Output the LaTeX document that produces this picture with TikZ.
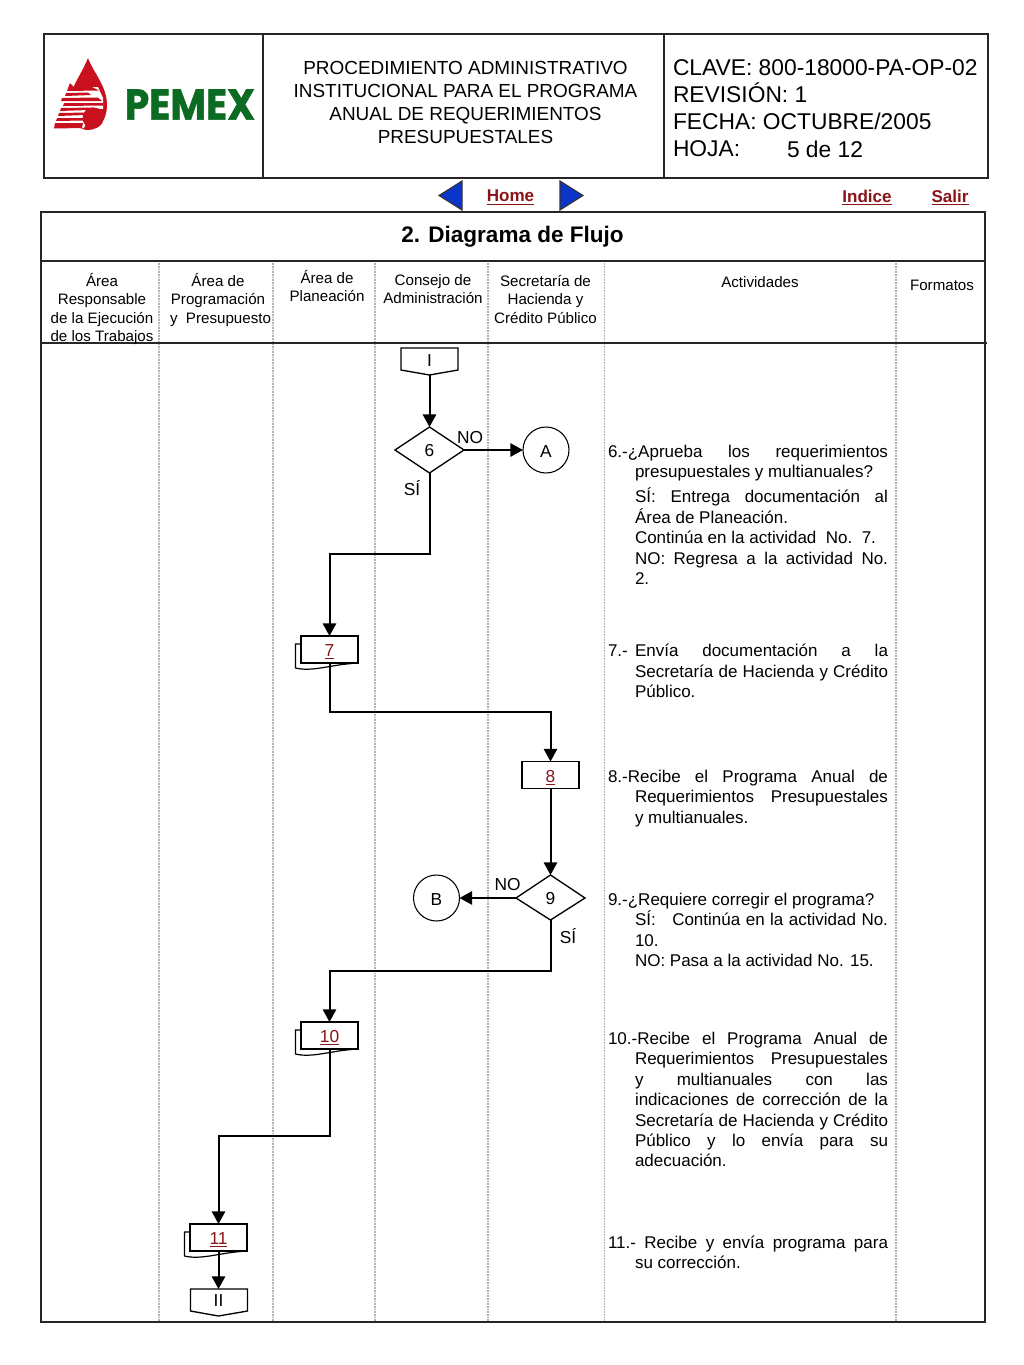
\documentclass[tikz,border=0pt]{standalone}
\usepackage{fontspec}
\setmainfont{Liberation Sans}
\newfontfamily\logofont[FakeBold=1.2]{Poppins}
\usetikzlibrary{arrows.meta}
\definecolor{linkred}{HTML}{8A1418}
\definecolor{pemexgreen}{HTML}{0B6B22}
\definecolor{pemexred}{HTML}{C8101E}
\definecolor{navblue}{HTML}{0A35C8}
\definecolor{gridgray}{HTML}{B0B0B0}
\newcounter{tn}
% label helpers: all positions in reference pixels, y = baseline
\newcommand{\txtC}[4][13]{\stepcounter{tn}\node[lab,anchor=base] (t\thetn) at (#2,#3) {\fontsize{#1}{#1}\selectfont #4};}
\newcommand{\txtL}[4][12.75]{\stepcounter{tn}\node[lab,anchor=base west] (t\thetn) at (#2,#3) {\fontsize{#1}{#1}\selectfont #4};}
\newcommand{\txtJ}[3]{\stepcounter{tn}\node[lab,anchor=base west] (t\thetn) at (635,#1) {\fontsize{12.75}{12.75}\selectfont\makebox[#2pt][s]{#3}};}
\tikzset{
  lab/.style={inner sep=0pt,outer sep=0pt},
  frame/.style={draw=black!85,line width=1.3pt},
  grid/.style={draw=gridgray,line width=0.85pt,dash pattern=on 0.8pt off 0.4pt},
  flow/.style={draw=black,line width=1.5pt},
  arr/.style={flow,-{Triangle[length=9.5pt,width=10pt]}},
  shapeline/.style={draw=black,line width=1pt,fill=white},
  backpage/.style={draw=black,line width=0.9pt},
  num/.style={inner sep=0pt,font=\fontsize{13}{13}\selectfont},
  link/.style={text=linkred,inner sep=0pt,font=\fontsize{12.8}{12.8}\selectfont\bfseries},
  rectnode/.style={shapeline,minimum width=42.75pt,minimum height=20.25pt,inner sep=0pt,outer sep=0pt,text depth=0pt,text height=10.5pt,font=\fontsize{13}{13}\selectfont},
  circnode/.style={circle,draw=black,line width=0.8pt,fill=white,minimum size=34.5pt,inner sep=0pt,outer sep=0pt,text depth=0pt,text height=11pt,font=\fontsize{13}{13}\selectfont},
  nav/.style={fill=navblue,draw=black!80,line width=0.8pt},
}
\begin{document}
\begin{tikzpicture}[x=0.75pt,y=-0.75pt]
\useasboundingbox[fill=white] (0,0) rectangle (1024,1365);
% top header frame
\draw[frame] (44,34) rectangle (988,178);
\draw[frame] (263,34) -- (263,178);
\draw[frame] (664,34) -- (664,178);
% logo
\fill[pemexred] (88,58) .. controls (93,72) and (107,86) .. (107,105)
  .. controls (107,120) and (99,130) .. (88,130)
  .. controls (80,130) and (72,124) .. (70,112)
  .. controls (66,92) and (80,78) .. (88,58) -- cycle;
\fill[white] (64,87) -- (98,87) -- (103,98) -- (103,109) -- (92,108) -- (84,128) -- (54,131) -- cycle;
\fill[pemexred] (68,88) -- (70,83) -- (74,87) -- (92,87) -- (99,90.5) -- (67,91) -- cycle;
\fill[pemexred] (66,93) -- (88,92.5) -- (91,95) -- (65,96) -- cycle;
\fill[pemexred] (62,98) -- (98,97.5) -- (102,101) -- (61,101) -- cycle;
\fill[pemexred] (64,103) -- (103,103) -- (103,105.5) -- (63,106) -- cycle;
\fill[pemexred] (61,108) -- (95,107.5) -- (88,110) -- (60,111) -- cycle;
\fill[pemexred] (59,113) -- (87,112.5) -- (85,115) -- (58,116) -- cycle;
\fill[pemexred] (57,118) -- (84,118) -- (83,120.5) -- (56,121) -- cycle;
\fill[pemexred] (55,123) -- (83,123) -- (82,128) -- (54,128.5) -- cycle;
\fill[pemexred] (93,118) circle[radius=10.5];
\node[lab,text=pemexgreen] (pemex) at (190,104.5)
  {\resizebox{97.5pt}{22.5pt}{\logofont\bfseries PEMEX}};
% title block
\txtC[14.2]{465.5}{74}{PROCEDIMIENTO ADMINISTRATIVO}
\txtC[14.2]{465.5}{97}{INSTITUCIONAL PARA EL PROGRAMA}
\txtC[14.2]{465.5}{120}{ANUAL DE REQUERIMIENTOS}
\txtC[14.2]{465.5}{143}{PRESUPUESTALES}
\txtL[17.1]{673}{75}{CLAVE: 800-18000-PA-OP-02}
\txtL[17.1]{673}{102}{REVISIÓN: 1}
\txtL[17.1]{673}{129}{FECHA: OCTUBRE/2005}
\txtL[17.1]{673}{156}{HOJA:}
\txtL[17.1]{787}{157}{5 de 12}
% navigation
\fill[nav] (439,195.5) -- (462,181) -- (462,210) -- cycle;
\fill[nav] (583,195.5) -- (560,181) -- (560,210) -- cycle;
\node[link] (home) at (510.5,197.5) {\underline{Home}};
\node[link] (indice) at (867,197.5) {\underline{Indice}};
\node[link] (salir) at (950,197.5) {\underline{Salir}};
% main frame
\draw[grid] (159,261) -- (159,1322);
\draw[grid] (273,261) -- (273,1322);
\draw[grid] (375,261) -- (375,1322);
\draw[grid] (488,261) -- (488,1322);
\draw[grid] (604.5,261) -- (604.5,1322);
\draw[grid] (896,261) -- (896,1322);
\draw[frame] (41,212) rectangle (985,1322);
\draw[frame] (41,261) -- (985,261);
\draw[frame] (41,343) -- (987,343);
\txtC[16.9]{512.5}{242}{\bfseries 2. Diagrama de Flujo}
% column heads
\txtC[11.35]{102}{286}{Área}
\txtC[11.35]{102}{304.5}{Responsable}
\txtC[11.35]{102}{323}{de la Ejecución}
\txtC[11.35]{102}{341}{de los Trabajos}
\txtC[11.35]{218}{286}{Área de}
\txtC[11.35]{218}{304.5}{Programación}
\txtC[11.35]{220.5}{323}{y\ \ Presupuesto}
\txtC[11.35]{327}{283}{Área de}
\txtC[11.35]{327}{301}{Planeación}
\txtC[11.35]{433}{285}{Consejo de}
\txtC[11.35]{433}{303}{Administración}
\txtC[11.35]{545.5}{286}{Secretaría de}
\txtC[11.35]{545.5}{304.5}{Hacienda y}
\txtC[11.35]{545.5}{323}{Crédito Público}
\txtC[11.35]{760}{287}{Actividades}
\txtC[11.35]{942}{290}{Formatos}
% flow nodes
\draw[shapeline] (401,348) -- (458,348) -- (458,370) -- (429.5,375) -- (401,370) -- cycle;
\coordinate (i) at (429.5,375);
\node[num] (ilab) at (429.5,360.5) {I};
\draw[shapeline] (395,450) -- (429.5,427) -- (464,450) -- (429.5,473) -- cycle;
\coordinate (d6) at (429.5,451);
\coordinate (d6n) at (429.5,427);
\coordinate (d6e) at (464,450);
\coordinate (d6s) at (429.5,473);
\node[num] (d6lab) at (d6) {6};
\node[circnode] (a) at (546,450) {A};
\draw[backpage] (301,644) -- (295.5,644) -- (295.5,668) .. controls (312,672) and (330,665) .. (352,663.5);
\node[rectnode] (n7) at (329.5,649.5) {\textcolor{linkred}{\underline{7}}};
\node[rectnode] (n8) at (550.5,775) {\textcolor{linkred}{\underline{8}}};
\draw[shapeline] (516,898) -- (550.5,875) -- (585,898) -- (550.5,920) -- cycle;
\coordinate (d9n) at (550.5,875);
\coordinate (d9w) at (516,898);
\coordinate (d9s) at (550.5,920);
\node[num] (d9lab) at (550.5,899) {9};
\node[circnode] (b) at (436.5,898) {B};
\draw[backpage] (301,1030) -- (295.5,1030) -- (295.5,1054) .. controls (312,1058) and (330,1051) .. (352,1049.5);
\node[rectnode] (n10) at (329.5,1035.5) {\textcolor{linkred}{\underline{10}}};
\draw[backpage] (190,1232) -- (184.5,1232) -- (184.5,1256) .. controls (201,1260) and (219,1253) .. (241,1251.5);
\node[rectnode] (n11) at (218.5,1237.5) {\textcolor{linkred}{\underline{11}}};
\draw[shapeline] (190.5,1289) -- (247.5,1289) -- (247.5,1311) -- (218.5,1316) -- (190.5,1311) -- cycle;
\coordinate (ii) at (218.5,1289);
\node[num] (iilab) at (218.5,1301) {II};
% connectors
\draw[arr] (i) -- (d6n);
\draw[arr] (d6e) -- (a.west);
\draw[arr] (d6s) -- (429.5,554) -- (329.5,554) -- (n7.north);
\draw[arr] (n7.south) -- (329.5,712) -- (550.5,712) -- (n8.north);
\draw[arr] (n8.south) -- (d9n);
\draw[arr] (d9w) -- (b.east);
\draw[arr] (d9s) -- (550.5,971) -- (329.5,971) -- (n10.north);
\draw[arr] (n10.south) -- (329.5,1136) -- (218.5,1136) -- (n11.north);
\draw[arr] (n11.south) -- (ii);
\txtC[13]{470}{443}{NO}
\txtC[13]{412}{495}{SÍ}
\txtC[13]{507.5}{890}{NO}
\txtC[13]{568}{943}{SÍ}
% activities
\txtL{608}{457}{\makebox[210pt][s]{6.-¿Aprueba los requerimientos}}
\txtL{635}{477.5}{presupuestales y multianuales?}
\txtJ{502.5}{189.75}{SÍ: Entrega documentación al}
\txtL{635}{523}{Área de Planeación.}
\txtL{635}{543}{Continúa en la actividad\ \ No.\ \ 7.}
\txtJ{564}{189.75}{NO: Regresa a la actividad No.}
\txtL{635}{584}{2.}
\txtL{608}{656.5}{7.-}
\txtJ{656.5}{189.75}{Envía documentación a la}
\txtJ{677}{189.75}{Secretaría de Hacienda y Crédito}
\txtL{635}{697.5}{Público.}
\txtL{608}{782}{\makebox[210pt][s]{8.-Recibe el Programa Anual de}}
\txtJ{802.5}{189.75}{Requerimientos Presupuestales}
\txtL{635}{823}{y multianuales.}
\txtL{608}{905}{9.-¿Requiere corregir el programa?}
\txtJ{925.5}{189.75}{SÍ:\ \ \ Continúa en la actividad No.}
\txtL{635}{946}{10.}
\txtL{635}{966.5}{NO: Pasa a la actividad No. 15.}
\txtL{608}{1044}{\makebox[210pt][s]{10.-Recibe el Programa Anual de}}
\txtJ{1064.5}{189.75}{Requerimientos Presupuestales}
\txtJ{1085}{189.75}{y multianuales con las}
\txtJ{1105.5}{189.75}{indicaciones de corrección de la}
\txtJ{1126}{189.75}{Secretaría de Hacienda y Crédito}
\txtJ{1146.5}{189.75}{Público y lo envía para su}
\txtL{635}{1166.5}{adecuación.}
\txtL{608}{1248}{\makebox[210pt][s]{11.- Recibe y envía programa para}}
\txtL{635}{1268.5}{su corrección.}
\end{tikzpicture}
\end{document}
